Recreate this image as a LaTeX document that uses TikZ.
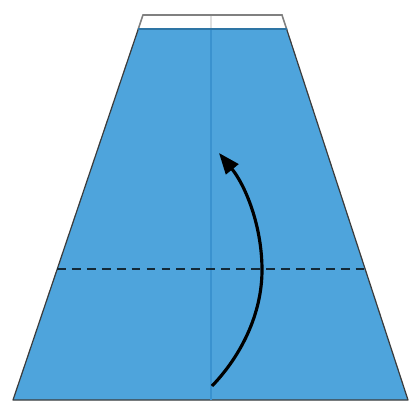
\documentclass[tikz,border=0pt]{standalone}
\usepackage{xcolor}
\usetikzlibrary{arrows.meta, calc}

\definecolor{paperblue}{HTML}{4EA4DC}
\definecolor{creaseblue}{HTML}{3A92CF}
\definecolor{edgegray}{HTML}{3C3C3C}

\begin{document}
\begin{tikzpicture}[
        x=0.02cm, y=-0.02cm,
        paper/.style={fill=paperblue, draw=edgegray, line width=0.7pt, line join=round},
        backside/.style={fill=white, draw=gray, line width=0.9pt},
        crease/.style={creaseblue, line width=1.6pt},
        valley/.style={dashed, dash pattern=on 5pt off 3.5pt, draw=black!75!paperblue, line width=1pt},
        foldarrow/.style={line width=1.8pt, -{Triangle[length=12pt, width=9pt]}}
    ]
        \useasboundingbox (0,0) rectangle (409,402);

        % Corners of the paper
        \coordinate (tl) at (143,15);
        \coordinate (tr) at (282,15);
        \coordinate (ml) at (138.3,29);
        \coordinate (mr) at (286.6,29);
        \coordinate (bl) at (13,400);
        \coordinate (br) at (408,400);

        % Paper and white back strip
        \draw [paper] (ml) -- (mr) -- (br) -- (bl) -- cycle;
        \draw [backside] (tl) -- (tr) -- (mr) -- (ml) -- cycle;
        \draw [creaseblue!80!black, line width=0.8pt] (ml) -- (mr);

        % Centre crease
        \draw [crease] (211,30) -- (211,400);
        \draw [gray!25, line width=1pt] (211,16) -- (211,28);

        % Valley fold line
        \coordinate (vl) at (57,269);
        \coordinate (vr) at (364,269);
        \draw [valley] (vl) -- (vr);

        % Fold arrow
        \coordinate (start) at (212,386);
        \coordinate (turn) at (262,270);
        \coordinate (tip) at (219,153);
        \draw [foldarrow] (start) .. controls (240,357) and (262,315) .. (turn)
            .. controls (262,225) and (245,185) .. (tip);

    \end{tikzpicture}
\end{document}
